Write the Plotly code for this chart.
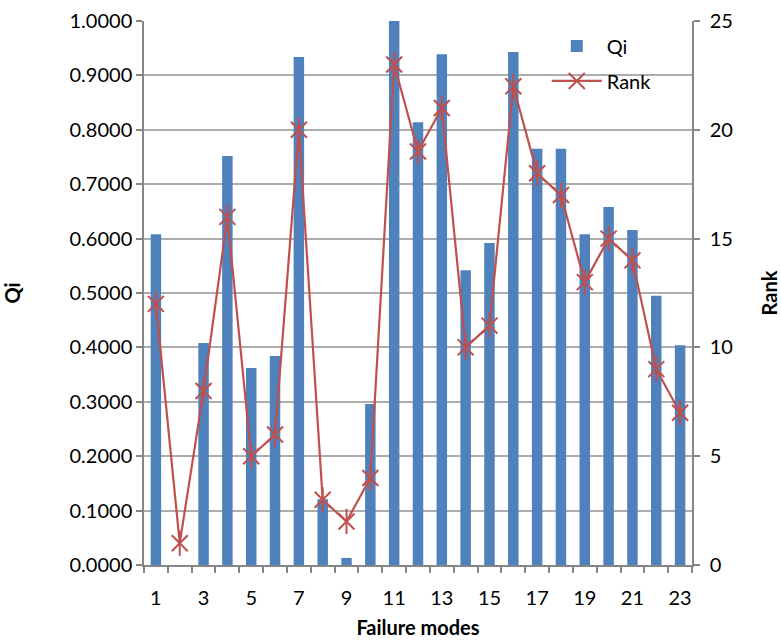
import plotly.graph_objects as go

modes = list(range(1, 24))
qi = [0.608, 0.0, 0.408, 0.752, 0.362, 0.384, 0.934, 0.121, 0.013, 0.296,
      1.0, 0.814, 0.939, 0.542, 0.592, 0.943, 0.765, 0.765, 0.608, 0.658,
      0.616, 0.495, 0.404]
rank = [12, 1, 8, 16, 5, 6, 20, 3, 2, 4, 23, 19, 21, 10, 11, 22, 18, 17, 13, 15, 14, 9, 7]
x_labels = [str(m) for m in modes if m % 2 == 1]
x_label_vals = [m for m in modes if m % 2 == 1]

RED = "#C0504D"
FONT = "Lato, Carlito, Calibri, sans-serif"
fig = go.Figure()
fig.add_trace(go.Bar(x=modes, y=qi, name="Qi", marker_color="#4F81BD",
                     marker_line_width=0, width=0.44, yaxis="y", legendgroup="qi"))
fig.add_trace(go.Scatter(x=modes, y=rank, name="Rank", yaxis="y2", mode="lines+markers",
                         legendgroup="rank",
                         line=dict(color=RED, width=2.2),
                         marker=dict(symbol="x-thin-open", size=16, color=RED,
                                     line=dict(color=RED, width=2))))
fig.add_trace(go.Scatter(x=modes, y=rank, name="Rank", yaxis="y2", mode="markers",
                         showlegend=False, hoverinfo="skip", legendgroup="rank",
                         marker=dict(symbol="line-ns-open", size=18, color=RED,
                                     line=dict(color=RED, width=2))))

fig.update_layout(
    width=781, height=641,
    margin=dict(l=144, r=89, t=21, b=76),
    paper_bgcolor="white", plot_bgcolor="white",
    font=dict(family=FONT, size=20, color="black"),
    showlegend=True,
    legend=dict(x=0.735, y=0.99, xanchor="left", yanchor="top",
                bgcolor="rgba(0,0,0,0)", font=dict(size=20),
                itemwidth=50, tracegroupgap=6, traceorder="grouped"),
    xaxis=dict(range=[0.5, 23.5], tickvals=x_label_vals, ticktext=x_labels,
               ticks="", showgrid=False, showline=True, linecolor="#868686", linewidth=1.5,
               tickfont=dict(size=20), zeroline=False, ticklabelstandoff=14,
               automargin=False,
               minor=dict(tick0=0.5, dtick=1, ticks="outside", ticklen=6,
                          tickcolor="#868686", tickwidth=1.5, showgrid=False),
               title=dict(text="<b>Failure modes</b>", font=dict(size=20), standoff=13)),
    yaxis=dict(range=[0, 1.0], dtick=0.1, tickformat=".4f", showgrid=True,
               gridcolor="#ADADAD", gridwidth=1.5, showline=True, linecolor="#868686",
               linewidth=1.5, ticks="outside", ticklen=6, tickcolor="#868686",
               tickwidth=1.5, zeroline=False, tickfont=dict(size=20), automargin=False,
               title=dict(text="<b>Qi</b>", font=dict(size=20), standoff=44)),
    yaxis2=dict(range=[0, 25], dtick=5, overlaying="y", side="right", showgrid=False,
                showline=True, linecolor="#868686", linewidth=1.5, ticks="outside",
                ticklen=6, tickcolor="#868686", tickwidth=1.5, zeroline=False,
                tickfont=dict(size=20), ticklabelstandoff=6, automargin=False,
                title=dict(text="<b>Rank</b>", font=dict(size=20), standoff=36)),
)

fig.write_html("out.html")
